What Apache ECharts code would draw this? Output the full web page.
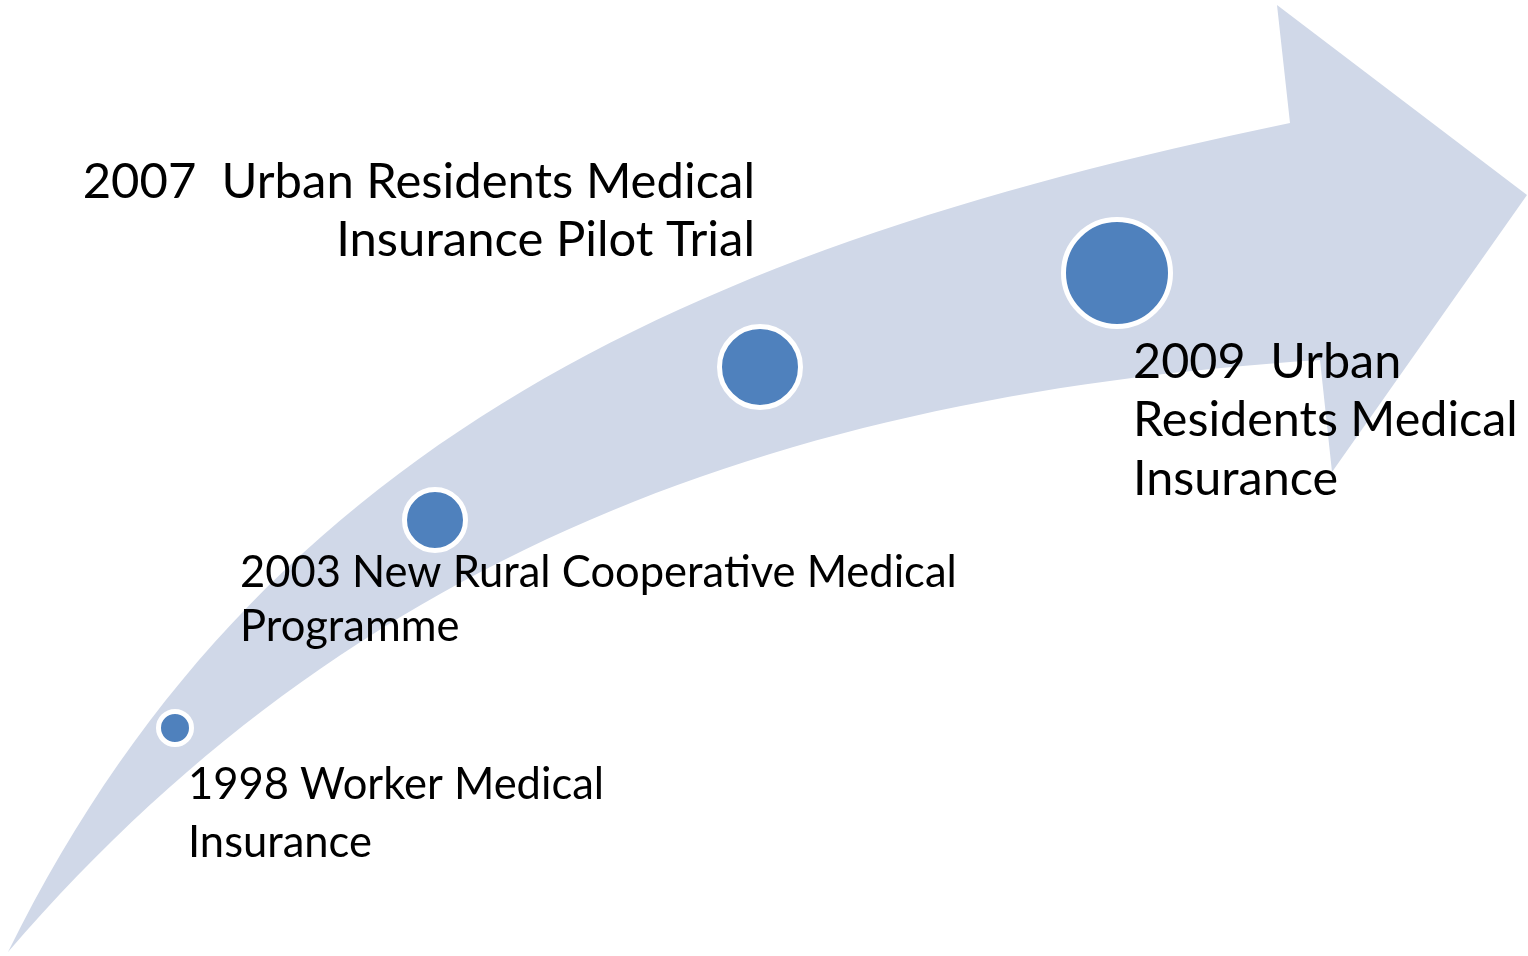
<!DOCTYPE html>
<html>
<head>
<meta charset="utf-8">
<title>Medical insurance milestones</title>
<script src="https://cdn.jsdelivr.net/npm/echarts@6/dist/echarts.min.js"></script>
<style>
    html, body { margin: 0; padding: 0; background: #ffffff; }
    #main { width: 1528px; height: 956px; }
</style>
</head>
<body>
<div id="main"></div>
<script>
// milestones along the arrow
var years = ['1998', '2003', '2007', '2009'];
var titles = [
    'Worker Medical\nInsurance',
    'New Rural Cooperative Medical\nProgramme',
    ' Urban Residents Medical\nInsurance Pilot Trial',
    ' Urban\nResidents Medical\nInsurance'
];
// where each milestone sits on the track (chart units, y grows downwards)
var pointX = [175, 435, 760, 1117];
var pointY = [728, 520, 367, 273];
var markerSize = [33, 61, 81, 107];

// text placement, one entry per milestone
var labelLayout = [
    { x: 188, y: 785, align: 'left', size: 43.5, lh: 58 },
    { x: 240, y: 573, align: 'left', size: 43.5, lh: 54 },
    { x: 755, y: 182, align: 'right', size: 49, lh: 58 },
    { x: 1133, y: 362, align: 'left', size: 48.5, lh: 58.5 }
];

var FONT = 'Lato, "Open Sans", "Noto Sans", sans-serif';

// arrow outline: two cubic edges + the head
var arrowTop = [[8, 952], [260, 440], [700, 245], [1290, 123]];
var arrowBottom = [[8, 952], [350, 554], [780, 395], [1320, 360]];
var arrowHead = [[1277, 5], [1527, 195], [1332, 472]];

function cubic(p, steps) {
    var out = [];
    for (var i = 0; i <= steps; i++) {
        var t = i / steps, u = 1 - t;
        var a = u * u * u, b = 3 * u * u * t, c = 3 * u * t * t, d = t * t * t;
        out.push([
            a * p[0][0] + b * p[1][0] + c * p[2][0] + d * p[3][0],
            a * p[0][1] + b * p[1][1] + c * p[2][1] + d * p[3][1]
        ]);
    }
    return out;
}

var myChart = echarts.init(document.getElementById('main'));

var labelData = [];
var markerData = [];
for (var i = 0; i < years.length; i++) {
    labelData.push([labelLayout[i].x, labelLayout[i].y, i]);
    markerData.push({ value: [pointX[i], pointY[i]], symbolSize: markerSize[i] });
}

var option = {
    animation: false,
    backgroundColor: '#ffffff',
    grid: { left: 0, right: 0, top: 0, bottom: 0 },
    xAxis: { type: 'value', min: 0, max: 1528, show: false },
    yAxis: { type: 'value', min: 0, max: 956, inverse: true, show: false },
    series: [
        {
            // the big curved arrow
            type: 'custom',
            z: 1,
            silent: true,
            data: [[0, 0]],
            renderItem: function (params, api) {
                var pts = cubic(arrowTop, 60);
                pts = pts.concat(arrowHead);
                pts = pts.concat(cubic(arrowBottom, 60).reverse());
                var px = pts.map(function (p) { return api.coord(p); });
                return {
                    type: 'polygon',
                    shape: { points: px },
                    style: { fill: '#D0D8E8' }
                };
            }
        },
        {
            type: 'scatter',
            z: 3,
            symbol: 'circle',
            itemStyle: {
                color: '#4F81BD',
                borderColor: '#ffffff',
                borderWidth: 5,
                opacity: 1
            },
            data: markerData
        },
        {
            // milestone texts
            type: 'custom',
            z: 2,
            silent: true,
            data: labelData,
            renderItem: function (params, api) {
                var idx = api.value(2);
                var lay = labelLayout[idx];
                var pt = api.coord([api.value(0), api.value(1)]);
                return {
                    type: 'text',
                    x: pt[0],
                    y: pt[1] - lay.lh / 2,
                    style: {
                        text: years[idx] + ' ' + titles[idx],
                        font: lay.size + 'px ' + FONT,
                        fill: '#000000',
                        align: lay.align,
                        verticalAlign: 'top',
                        lineHeight: lay.lh
                    }
                };
            }
        }
    ]
};

myChart.setOption(option);
</script>
</body>
</html>
